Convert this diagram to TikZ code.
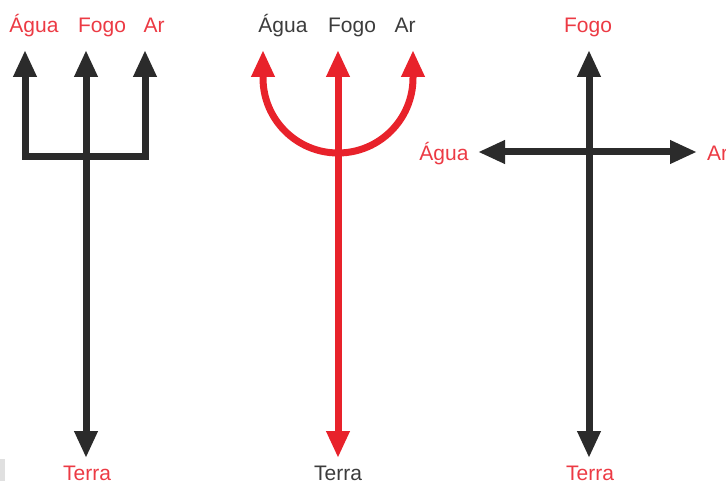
\documentclass[tikz,border=0pt]{standalone}
\usepackage{fontspec}
\setmainfont{Liberation Sans}
\usetikzlibrary{arrows.meta}
\definecolor{dk}{HTML}{2B2B2B}
\definecolor{rd}{HTML}{E8222B}
\definecolor{rdl}{HTML}{EC3A44}
\definecolor{gl}{HTML}{3C3C3C}
\tikzset{
  tip/.tip={Triangle[width=22pt,length=27pt]},
  arr/.style={line width=7pt, line join=miter, {tip}-{tip}},
  lbl/.style={font=\fontsize{21}{21}\selectfont, inner sep=0pt, anchor=base},
  lblr/.style={lbl, text=rdl},
  lbld/.style={lbl, text=gl}
}
\begin{document}
\begin{tikzpicture}[x=1pt,y=-1pt]
\useasboundingbox (0,0) rectangle (726,484);
\fill[black!12] (0,459) rectangle (5,481);
% --- diagram 1 (fork)
\coordinate (a1) at (25,50); \coordinate (f1) at (86,50); \coordinate (r1) at (145,50);
\coordinate (b1) at (86,458);
\coordinate (al1) at (25,157); \coordinate (ar1) at (145,157);
\draw[arr, dk] (a1) -- (al1) -- (ar1) -- (r1);
\draw[arr, dk] (f1) -- (b1);
\node[lblr] (ta1) at (34,33) {Água};
\node[lblr] (tf1) at (102,33) {Fogo};
\node[lblr] (tr1) at (154,33) {Ar};
\node[lblr] (tt1) at (87,480) {Terra};
% --- diagram 2 (trident)
\coordinate (a2) at (263,50); \coordinate (f2) at (338,50); \coordinate (r2) at (413,50);
\coordinate (b2) at (338,458);
\draw[arr, rd] (a2) -- (263,78) .. controls (263,119.4) and (296.6,153) .. (338,153)
  .. controls (379.4,153) and (413,119.4) .. (413,78) -- (r2);
\draw[arr, rd] (f2) -- (b2);
\node[lbld] (ta2) at (283,33) {Água};
\node[lbld] (tf2) at (352,33) {Fogo};
\node[lbld] (tr2) at (405,33) {Ar};
\node[lbld] (tt2) at (338,480) {Terra};
% --- diagram 3 (cross)
\coordinate (f3) at (589,50); \coordinate (b3) at (589,458);
\coordinate (l3) at (478,152); \coordinate (r3) at (697,152);
\draw[arr, dk] (f3) -- (b3);
\draw[arr, dk] (l3) -- (r3);
\node[lblr] (tf3) at (588,33) {Fogo};
\node[lblr] (ta3) at (444,161) {Água};
\node[lblr, anchor=base west] (tr3) at (707,161) {Ar};
\node[lblr] (tt3) at (590,480) {Terra};
\end{tikzpicture}
\end{document}
